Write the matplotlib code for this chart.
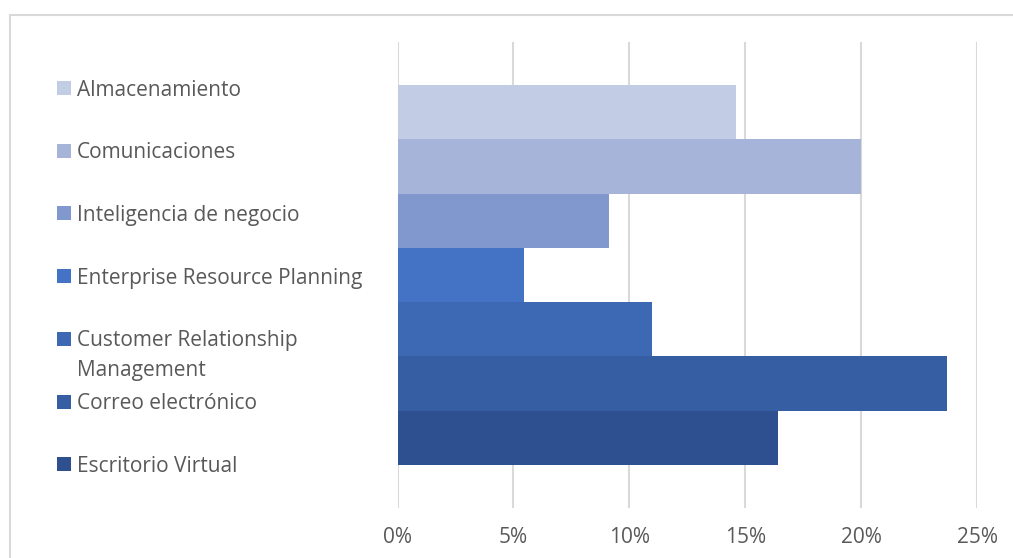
import matplotlib
matplotlib.use("Agg")
import matplotlib.pyplot as plt
from matplotlib.patches import Rectangle
from matplotlib.ticker import FuncFormatter

categories = ["Almacenamiento", "Comunicaciones", "Inteligencia de negocio",
              "Enterprise Resource Planning", "Customer Relationship\nManagement",
              "Correo electrónico", "Escritorio Virtual"]
values = [0.146, 0.200, 0.0914, 0.0545, 0.1096, 0.237, 0.164]
colors = ["#C2CCE4", "#A6B4D9", "#8198CE", "#4472C4", "#3D69B4", "#365EA2", "#2F5090"]
xticks = [0, 0.05, 0.10, 0.15, 0.20, 0.25]

W, H = 1013, 558
fig = plt.figure(figsize=(W / 100, H / 100), dpi=100)
plt.rcParams['font.family'] = ['Open Sans', 'DejaVu Sans']
text_color = "#595959"
fs = 15

# outer chart border
fig.patches.append(Rectangle((9.5 / W, -0.1), 1.2, 1 - 15 / H + 0.1, transform=fig.transFigure,
                             fill=False, edgecolor="#D9D9D9", linewidth=1.5))

left, right, top, bottom = 397.5, 977, 42, 508
ax = fig.add_axes([left / W, 1 - bottom / H, (right - left) / W, (bottom - top) / H])
n = len(categories)
ypos = list(range(n))
ax.barh(ypos, values, height=1.0, color=colors, zorder=2)
pad = 43 / ((465 - 85) / n)
ax.set_ylim(n - 0.5 + pad, -0.5 - pad)
ax.set_xlim(0, 0.25)
ax.set_xticks(xticks)
ax.xaxis.set_major_formatter(FuncFormatter(lambda v, p: f"{v*100:.0f}%"))
ax.grid(axis="x", color="#D9D9D9", linewidth=1.5, zorder=0)
ax.tick_params(axis="x", length=0, pad=13.5, labelsize=fs, labelcolor=text_color)
ax.tick_params(axis="y", left=False, labelleft=False)
for s in ax.spines.values():
    s.set_visible(False)

# legend on the left
y0, dy = 88, 62.7
for i, (cat, col) in enumerate(zip(categories, colors)):
    yc = y0 + i * dy
    fig.patches.append(Rectangle((57 / W, 1 - (yc + 7) / H), 14 / W, 14 / H,
                                 transform=fig.transFigure, facecolor=col, edgecolor="none"))
    fig.text(77 / W, 1 - (yc - 8.5) / H, cat, ha="left", va="top", fontsize=fs,
             color=text_color, linespacing=1.55)

fig.savefig("out.png", dpi=100)
